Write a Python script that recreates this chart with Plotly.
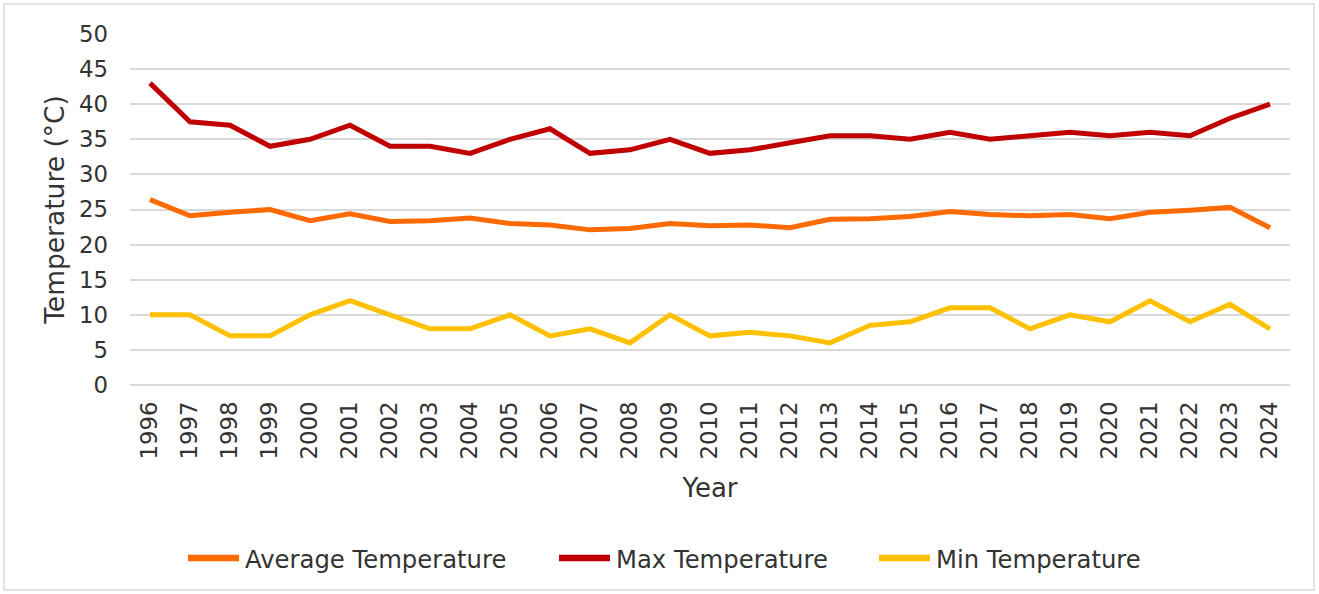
import plotly.graph_objects as go

years = [str(y) for y in range(1996, 2025)]
avg_temp = [26.4, 24.1, 24.6, 25.0, 23.4, 24.4, 23.3, 23.4, 23.8, 23.0, 22.8, 22.1, 22.3, 23.0, 22.7,
            22.8, 22.4, 23.6, 23.7, 24.0, 24.7, 24.3, 24.1, 24.3, 23.7, 24.6, 24.9, 25.3, 22.4]
max_temp = [43, 37.5, 37, 34, 35, 37, 34, 34, 33, 35, 36.5, 33, 33.5, 35, 33,
            33.5, 34.5, 35.5, 35.5, 35, 36, 35, 35.5, 36, 35.5, 36, 35.5, 38, 40]
min_temp = [10, 10, 7, 7, 10, 12, 10, 8, 8, 10, 7, 8, 6, 10, 7,
            7.5, 7, 6, 8.5, 9, 11, 11, 8, 10, 9, 12, 9, 11.5, 8]

series_names = ["Average Temperature", "Max Temperature", "Min Temperature"]
series_values = [avg_temp, max_temp, min_temp]
series_colors = ["#FF6A00", "#C00000", "#FFC000"]

FONT = "DejaVu Sans"
TXT = "#333333"
GRID = "#D9D9D9"

W, H = 1319, 594
L, R, T, B = 130, 29, 34, 209
pw, ph = W - L - R, H - T - B


def px_x(x):
    return (x - L) / pw


def px_y(y):
    return (T + ph - y) / ph


fig = go.Figure()
for name, vals, col in zip(series_names, series_values, series_colors):
    fig.add_trace(go.Scatter(x=years, y=vals, mode="lines", name=name,
                             line=dict(color=col, width=5), showlegend=False))

# custom legend (swatch + label), laid out like the reference
legend_swatch_x = [186, 557, 877]
legend_y = 558
shapes = [dict(type="rect", xref="paper", yref="paper",
               x0=px_x(4), x1=px_x(W - 5), y0=px_y(H - 4), y1=px_y(4),
               line=dict(color=GRID, width=1.5), fillcolor="rgba(0,0,0,0)", layer="below")]
annotations = []
for name, col, sx in zip(series_names, series_colors, legend_swatch_x):
    shapes.append(dict(type="line", xref="paper", yref="paper",
                       x0=px_x(sx + 2), x1=px_x(sx + 53), y0=px_y(legend_y), y1=px_y(legend_y),
                       line=dict(color=col, width=6.5)))
    annotations.append(dict(text=name, xref="paper", yref="paper", x=px_x(sx + 57),
                            y=px_y(legend_y + 1), xanchor="left", yanchor="middle",
                            showarrow=False, font=dict(size=24.3, color=TXT, family=FONT)))

fig.update_layout(
    width=W, height=H,
    margin=dict(l=L, r=R, t=T, b=B, autoexpand=False),
    paper_bgcolor="white", plot_bgcolor="white",
    font=dict(family=FONT, color=TXT, size=22.5),
    showlegend=False,
    xaxis=dict(type="category", range=[-0.5, 28.5], tickangle=-90,
               tickmode="array", tickvals=years, ticktext=years,
               showgrid=False, showline=False, ticks="", ticklabelstandoff=11,
               tickfont=dict(size=22.8, color=TXT), automargin=False,
               title=dict(text="Year", font=dict(size=26, color=TXT), standoff=20)),
    yaxis=dict(range=[0, 50], dtick=5, showgrid=True, gridcolor=GRID, gridwidth=1.5,
               zeroline=True, zerolinecolor=GRID, zerolinewidth=1.5,
               ticks="", ticklabelstandoff=21, automargin=False,
               tickfont=dict(size=22.8, color=TXT),
               title=dict(text="Temperature (°C)", font=dict(size=26.5, color=TXT), standoff=6)),
    shapes=shapes,
    annotations=annotations,
)

fig.write_html("out.html", config={"displayModeBar": False},
               post_script="document.body.style.margin='0';")
